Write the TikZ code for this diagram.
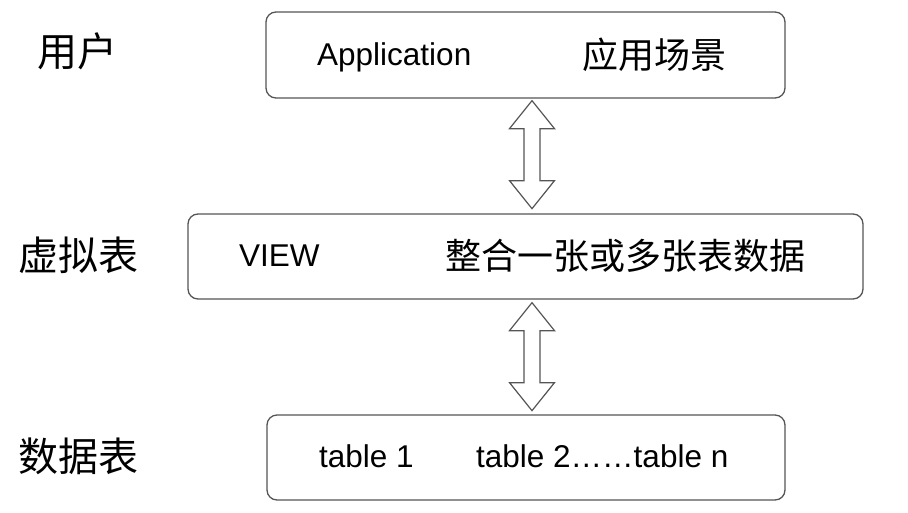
\documentclass[tikz,border=0pt]{standalone}
\usepackage{fontspec}
\setmainfont{Liberation Sans}
\newfontfamily\cjk{Noto Sans CJK SC}
\usetikzlibrary{calc}
\definecolor{edgegray}{HTML}{555555}
\begin{document}
\begin{tikzpicture}[x=1pt,y=1pt,
  layerbox/.style={draw=edgegray,line width=1.3pt,rounded corners=10pt,inner sep=0pt},
  lbl/.style={inner sep=0pt,font=\cjk\fontsize{40}{44}\selectfont},
  cjktxt/.style={inner sep=0pt,anchor=west,font=\cjk\fontsize{36}{40}\selectfont},
  lattxt/.style={inner sep=0pt,anchor=base west,font=\fontsize{31.5}{36}\selectfont},
  udarrow/.pic={\draw[draw=edgegray,line width=1.2pt,line join=miter,fill=white]
    (0,0) -- (22.5,-28) -- (8,-28) -- (8,-80) -- (22.5,-80) -- (0,-108)
    -- (-22.5,-80) -- (-8,-80) -- (-8,-28) -- (-22.5,-28) -- cycle;}
  ]
\useasboundingbox (0,0) rectangle (908,-512);
% boxes
\node[layerbox,minimum width=519pt,minimum height=86pt] (b1) at (525.5,-55) {};
\node[layerbox,minimum width=675pt,minimum height=85pt] (b2) at (525.5,-256.5) {};
\node[layerbox,minimum width=518pt,minimum height=85pt] (b3) at (526,-457.5) {};
% left labels
\node[lbl] (l1) at (77,-51) {用户};
\node[lbl] (l2) at (78,-255) {虚拟表};
\node[lbl] (l3) at (78,-456) {数据表};
% box texts
\node[lattxt] (t1a) at (317,-65) {Application};
\node[cjktxt] (t1b) at (582,-55) {应用场景};
\node[lattxt] (t2a) at (239,-266.5) {VIEW};
\node[cjktxt] (t2b) at (445,-256) {整合一张或多张表数据};
\node[lattxt] (t3a) at (319,-467.5) {table 1};
\node[lattxt] (t3b) at (476,-467.5) {table 2……table n};
% double arrows
\pic at ([xshift=6.5pt,yshift=-2pt]b1.south) {udarrow};
\pic at ([xshift=6.5pt,yshift=-3pt]b2.south) {udarrow};
\end{tikzpicture}
\end{document}
